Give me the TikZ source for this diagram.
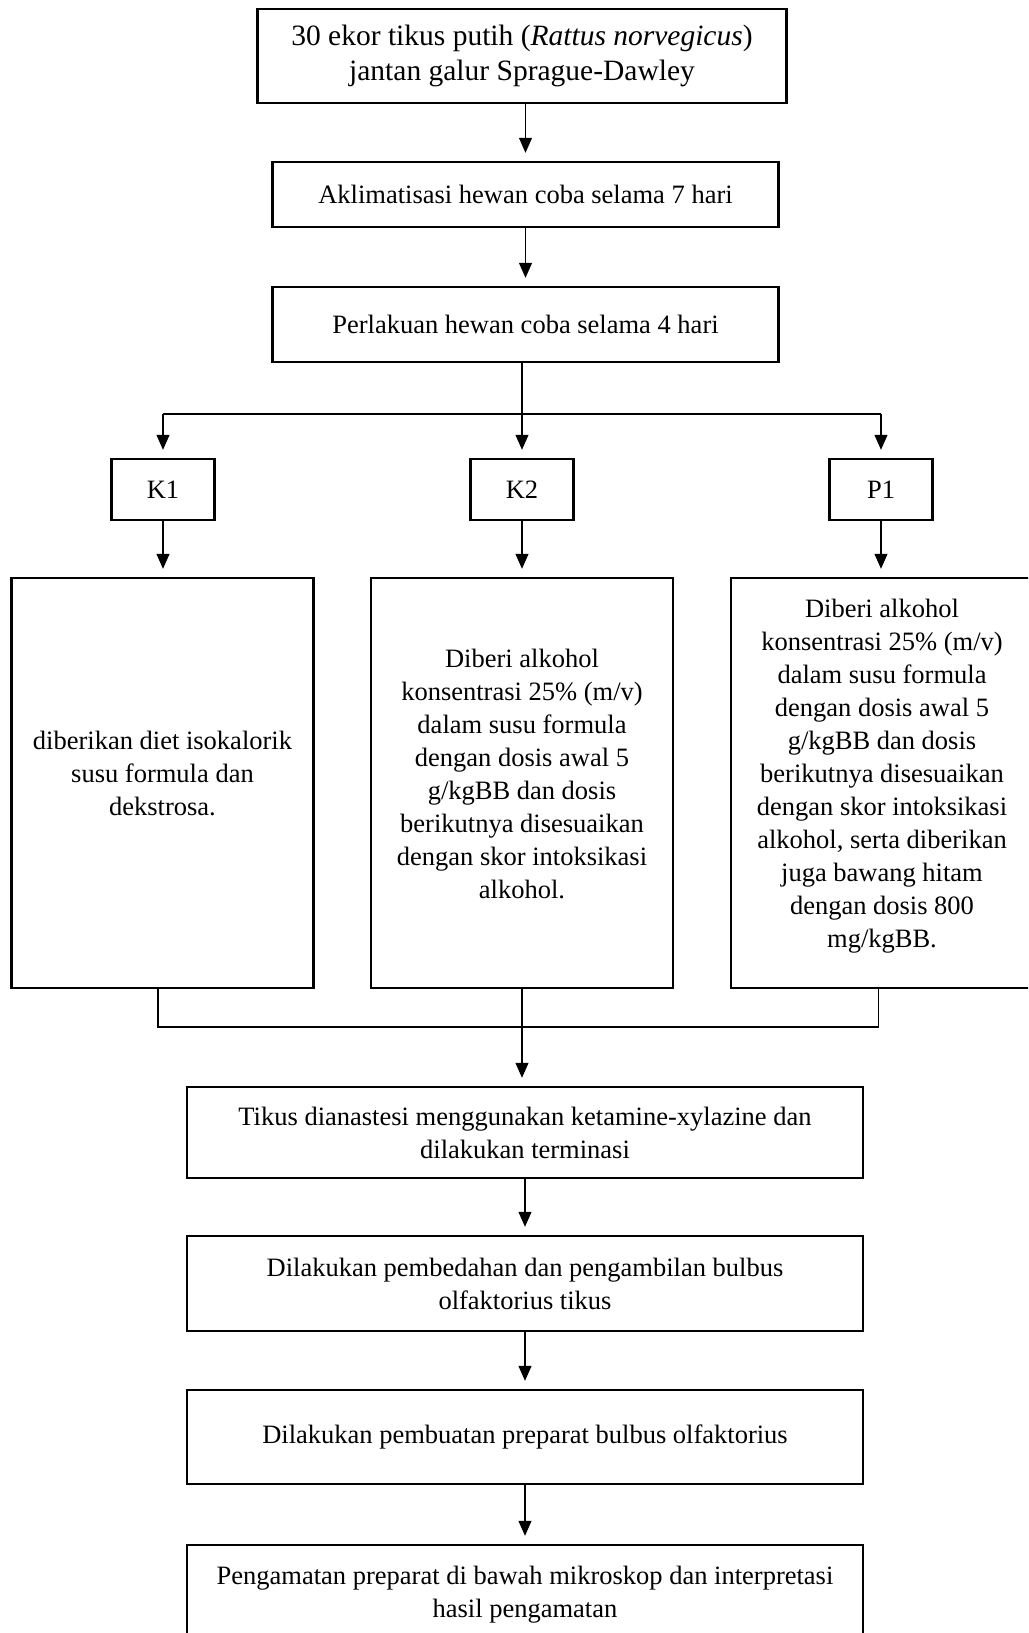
\documentclass[tikz,border=0pt]{standalone}
\usepackage{fontspec}
\setmainfont{Liberation Serif}
\usetikzlibrary{arrows.meta,calc}
\newcommand{\liftup}{\rule[-19pt]{0pt}{19pt}}
\begin{document}
\begin{tikzpicture}[x=1pt,y=-1pt,
  box/.style={draw, line width=2.4pt, rectangle, align=center, inner sep=0pt,
    font=\fontsize{26.5}{33}\selectfont},
  bigbox/.style={box, align=flush center, text width=296pt, minimum width=302pt, minimum height=410pt},
  conn/.style={line width=1.1pt},
  arr/.style={conn, -{Triangle[length=15pt,width=13pt]}, shorten >=8pt}]
\useasboundingbox (0,0) rectangle (1028,1633);
\clip (0,0) rectangle (1028,1633);

\node[box, minimum width=529pt, minimum height=94pt, font=\fontsize{29.5}{35}\selectfont] (n1) at (522,56)
  {30 ekor tikus putih (\textit{Rattus norvegicus})\\jantan galur Sprague-Dawley};
\node[box, minimum width=506pt, minimum height=65pt] (n2) at (525.5,194.5)
  {Aklimatisasi hewan coba selama 7 hari};
\node[box, minimum width=506pt, minimum height=75pt] (n3) at (525.5,324.5)
  {Perlakuan hewan coba selama 4 hari};

\node[box, minimum width=103pt, minimum height=61pt] (k1) at (163,489.5) {K1};
\node[box, minimum width=103pt, minimum height=61pt] (k2) at (522,489.5) {K2};
\node[box, minimum width=103pt, minimum height=61pt] (p1) at (881,489.5) {P1};

\node[bigbox] (b1) at (162.5,783)
  {diberikan diet isokalorik\\susu formula dan\\dekstrosa.\liftup};
\node[bigbox] (b2) at (522,783)
  {Diberi alkohol\\konsentrasi 25\% (m/v)\\dalam susu formula\\dengan dosis awal 5\\g/kgBB dan dosis\\berikutnya disesuaikan\\dengan skor intoksikasi\\alkohol.\liftup};
\node[bigbox] (b3) at (882,783)
  {Diberi alkohol\\konsentrasi 25\% (m/v)\\dalam susu formula\\dengan dosis awal 5\\g/kgBB dan dosis\\berikutnya disesuaikan\\dengan skor intoksikasi\\alkohol, serta diberikan\\juga bawang hitam\\dengan dosis 800\\mg/kgBB.\liftup};

\node[box, minimum width=676pt, minimum height=91pt] (n4) at (525,1132.5)
  {Tikus dianastesi menggunakan ketamine-xylazine dan\\dilakukan terminasi};
\node[box, minimum width=676pt, minimum height=95pt] (n5) at (525,1283.5)
  {Dilakukan pembedahan dan pengambilan bulbus\\olfaktorius tikus};
\node[box, minimum width=676pt, minimum height=94pt] (n6) at (525,1437)
  {Dilakukan pembuatan preparat bulbus olfaktorius};
\node[box, minimum width=676pt, minimum height=100pt] (n7) at (525,1595)
  {Pengamatan preparat di bawah mikroskop dan interpretasi\\hasil pengamatan};

% top chain
\draw[arr] (n1.south -| n2.north) -- (n2.north);
\draw[arr] (n2) -- (n3);
% branching
\coordinate (br) at (522,414);
\draw[arr] (n3.south -| k2.north) -- (k2.north);
\draw[conn] (br -| k1.north) -- (br -| p1.north);
\draw[arr] (br -| k1.north) -- (k1.north);
\draw[arr] (br -| p1.north) -- (p1.north);
% K to big boxes
\draw[arr] (k1.south) -- (k1.south |- b1.north);
\draw[arr] (k2.south) -- (k2.south |- b2.north);
\draw[arr] (p1.south) -- (p1.south |- b3.north);
% joining
\coordinate (jn) at (522,1027);
\draw[conn] ([xshift=-4.5pt]b1.south) |- (jn) -| ([xshift=-3.5pt]b3.south);
\draw[arr] (b2.south) -- (b2.south |- n4.north);
% bottom chain
\draw[arr] (n4) -- (n5);
\draw[arr] (n5) -- (n6);
\draw[arr] (n6) -- (n7);
\end{tikzpicture}
\end{document}
